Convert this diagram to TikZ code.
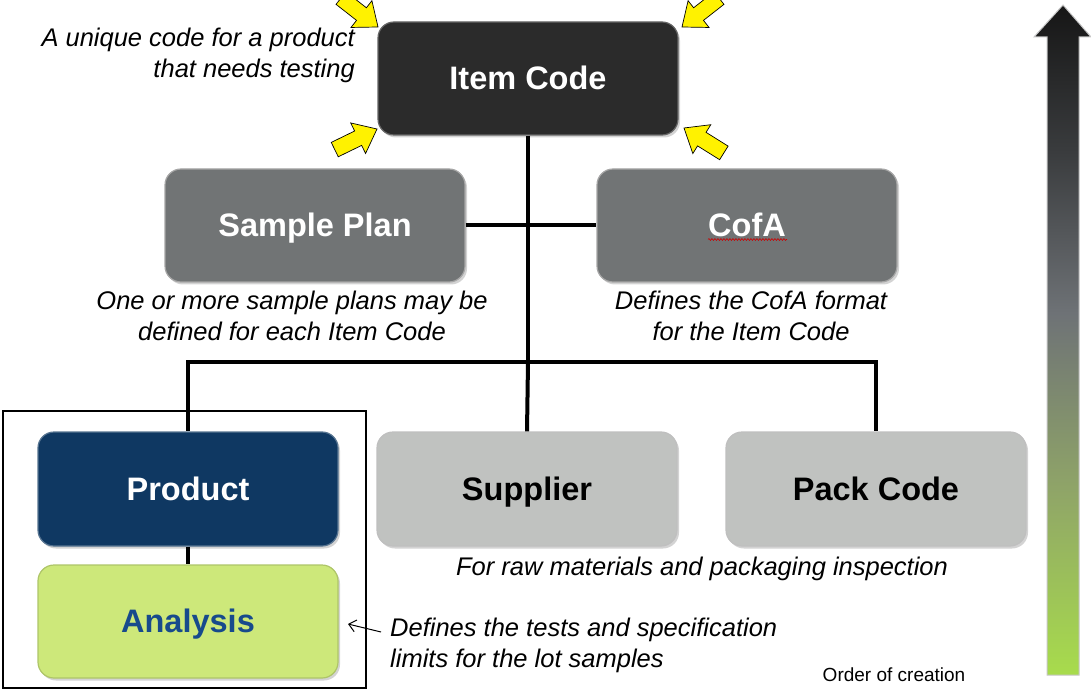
\documentclass[tikz,border=0pt]{standalone}
\usepackage{fontspec}
\setmainfont{Liberation Sans}
\usetikzlibrary{shadows,decorations.pathmorphing,arrows.meta}
\definecolor{icfill}{HTML}{2B2B2B}
\definecolor{spfill}{HTML}{717475}
\definecolor{prfill}{HTML}{0F3862}
\definecolor{anfill}{HTML}{CDE87A}
\definecolor{antext}{HTML}{174A8C}
\definecolor{sufill}{HTML}{C0C2C0}
\definecolor{sga}{HTML}{A8DC4C}
\definecolor{sgb}{HTML}{8FA468}
\definecolor{sgc}{HTML}{6E7276}
\definecolor{sgd}{HTML}{3A3C3E}
\definecolor{sge}{HTML}{161616}
\pgfdeclareverticalshading{ordershade}{100bp}{color(0bp)=(sga); color(25bp)=(sga); color(39bp)=(sgb); color(52bp)=(sgc); color(64bp)=(sgd); color(75bp)=(sge); color(100bp)=(sge)}
\begin{document}
\begin{tikzpicture}[x=1pt,y=-1pt,
  box/.style={rounded corners=16pt, minimum width=300pt, minimum height=113pt,
    font=\fontsize{32.5}{38}\selectfont\bfseries, line width=1.2pt,
    text height=25pt, text depth=3pt,
    drop shadow={opacity=0.35, shadow xshift=2pt, shadow yshift=-2.5pt}},
  conn/.style={line width=4pt, black},
  note/.style={font=\fontsize{25.5}{31}\selectfont\itshape, inner sep=0pt},
  yarrow/.pic={\draw[fill=yellow, draw=black, line width=0.7pt, line join=miter]
     (0,0) -- (-21,-17) -- (-21,-8) -- (-47,-8) -- (-47,8) -- (-21,8) -- (-21,17) -- cycle;}
]
\useasboundingbox (0,0) rectangle (1091,692);

% order-of-creation arrow
\shade[shading=ordershade, draw=gray!45, line width=1pt]
  (1047,675) -- (1047,37) -- (1034,37) -- (1063,5) -- (1091,37) -- (1079,37) -- (1079,675) -- cycle;

% boxes
\node[box, fill=icfill, draw=black!60, text=white] (ic) at (528,78.5) {Item Code};
\node[box, fill=spfill, draw=black!35, text=white] (sp) at (315,225.5) {Sample Plan};
\node[box, fill=spfill, draw=black!35, text=white] (cofa) at (747,225.5) {CofA};
\node[box, fill=prfill, draw=prfill!70!white, text=white, minimum height=114pt] (prod) at (188,489) {Product};
\node[box, fill=anfill, draw=anfill!85!black, text=antext] (ana) at (188,621.5) {Analysis};
\node[box, fill=sufill, draw=black!25, text=black, minimum height=114pt] (sup) at (527,489) {Supplier};
\node[box, fill=sufill, draw=black!25, text=black, minimum height=114pt] (pack) at (876,489) {Pack Code};

% spell-check squiggle under CofA
\draw[red!80!black, line width=0.6pt, decorate, decoration={snake, amplitude=0.9pt, segment length=3pt}]
  ([xshift=-39pt,yshift=-14pt]cofa.center) -- ([xshift=40pt,yshift=-14pt]cofa.center);

% connectors
\coordinate (j) at (528,362);
\coordinate (lj) at (188,362);
\coordinate (rj) at (876,362);
\draw[conn] (ic.south) -- (j);
\draw[conn] (sp.east) -- (cofa.west);
\draw[conn, line cap=rect] (lj) -- (rj);
\draw[conn] (lj) -- (prod.north);
\draw[conn] (j) -- (sup.north);
\draw[conn] (rj) -- (pack.north);
\draw[conn] (prod.south) -- (ana.north);

% frame around Product / Analysis
\draw[line width=1.5pt] (3,411) rectangle (366,688);

% yellow arrows
\pic[rotate=-38] at (378,27) {yarrow};
\pic[rotate=-142] at (682,27) {yarrow};
\pic[rotate=26] at (377,129) {yarrow};
\pic[rotate=148] at (684,128) {yarrow};

% notes
\node[note, anchor=east, align=right] (n1) at (355,55) {A unique code for a product\\that needs testing};
\node[note, align=center] (n2) at (292,316) {One or more sample plans may be\\defined for each Item Code};
\node[note, align=center] (n3) at (751,316) {Defines the CofA format\\for the Item Code};
\node[note] (n4) at (702,569) {For raw materials and packaging inspection};
\node[note, anchor=west, align=left] (n5) at (390,645) {Defines the tests and specification\\limits for the lot samples};
\node[font=\fontsize{19}{22}\selectfont, inner sep=0pt] (n6) at (894,675) {Order of creation};

% pointer to Analysis
\coordinate (pt) at (381,632);
\coordinate (ph) at (348,624);
\draw[-{Straight Barb[length=7pt, width=12pt]}, line width=1pt] (pt) -- (ph);
\end{tikzpicture}
\end{document}
